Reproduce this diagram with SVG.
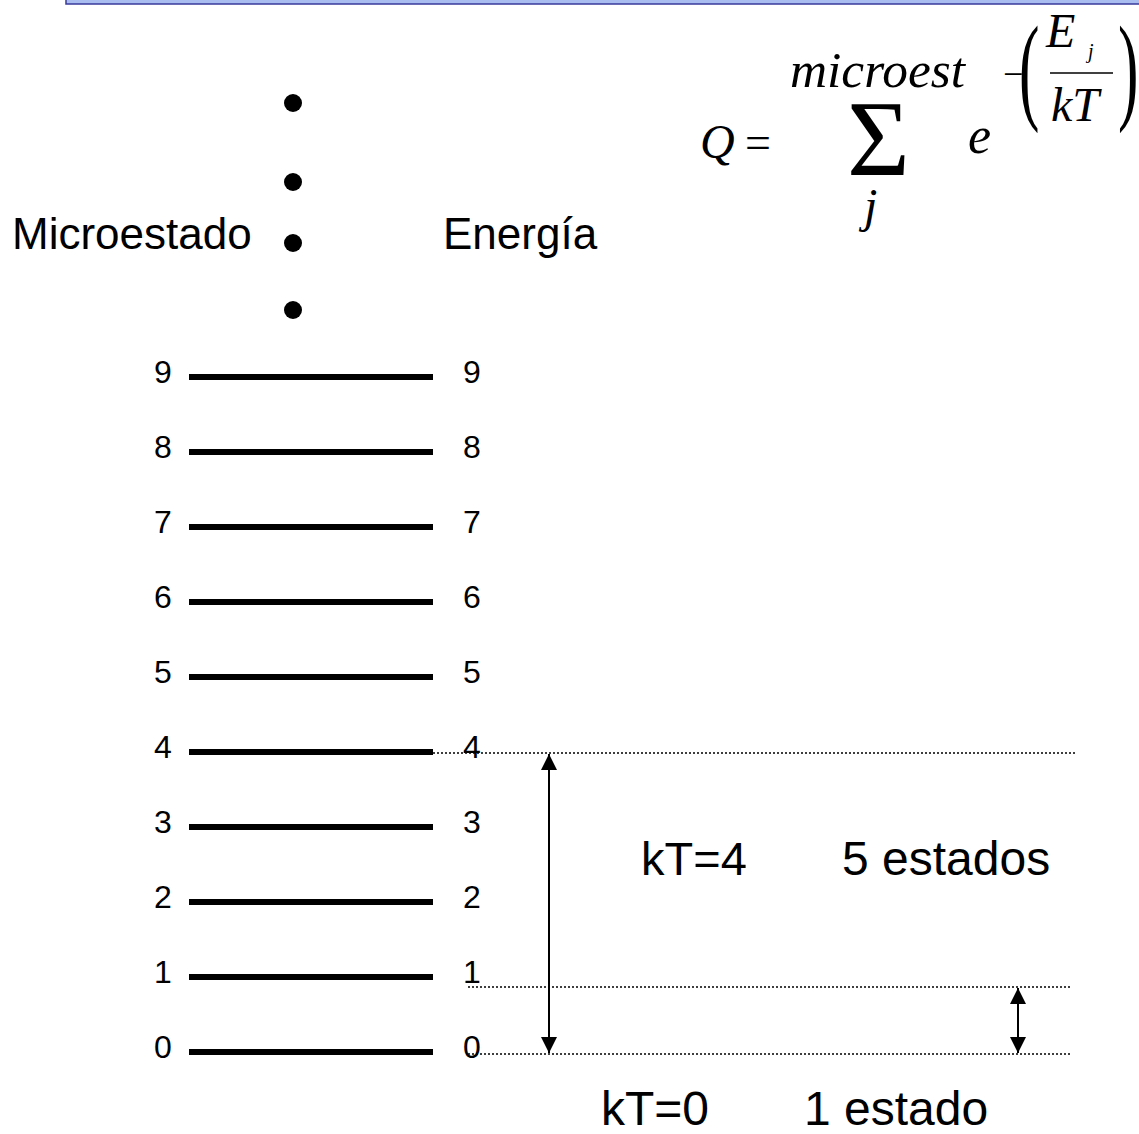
<svg xmlns="http://www.w3.org/2000/svg" width="1139" height="1134" viewBox="0 0 1139 1134">
<defs>
<style>
.lbl{font-family:"Liberation Sans",Arial,sans-serif;fill:#000}
.num{font-family:"Liberation Sans",Arial,sans-serif;font-size:32px;text-anchor:middle;fill:#000}
.lvl{stroke:#000;stroke-width:6}
.dot{stroke:#000;stroke-width:1.5;stroke-dasharray:2 2;fill:none}
.arr{stroke:#000;stroke-width:2;fill:none;marker-start:url(#ah);marker-end:url(#ah)}
.m{font-family:"Liberation Serif","Times New Roman",serif;font-style:italic;fill:#000}
.mu{font-family:"Liberation Serif","Times New Roman",serif;fill:#000}
</style>
<marker id="ah" viewBox="0 0 16 16" refX="16" refY="8" markerWidth="16" markerHeight="16" markerUnits="userSpaceOnUse" orient="auto-start-reverse">
<path d="M0,0 L16,8 L0,16 Z" fill="#000"/>
</marker>
</defs>
<rect x="0" y="0" width="1139" height="1134" fill="#fff"/>
<rect x="66" y="-6" width="1090" height="10" fill="#a9bdf0" stroke="#3a3a9c" stroke-width="1.5"/>

<g id="formula">
<text class="m" x="700" y="158" font-size="48">Q</text>
<text class="mu" x="745" y="158" font-size="46">=</text>
<text class="m" x="790" y="87" font-size="50" textLength="175" lengthAdjust="spacingAndGlyphs">microest</text>
<text class="mu" x="847" y="175" font-size="108">Σ</text>
<text class="m" x="864" y="222" font-size="48">j</text>
<text class="m" x="968" y="153" font-size="52">e</text>
<text class="mu" x="1003" y="86" font-size="36">−</text>
<text class="mu" transform="translate(1019,108) scale(0.52,1)" font-size="118">(</text>
<text class="m" x="1046" y="47" font-size="48">E</text>
<text class="m" x="1088" y="58" font-size="20">j</text>
<line x1="1050" y1="73" x2="1113" y2="73" stroke="#000" stroke-width="1.5"/>
<text class="m" x="1051" y="121" font-size="48">kT</text>
<text class="mu" transform="translate(1118,108) scale(0.52,1)" font-size="118">)</text>
</g>

<g id="headers">
<text class="lbl" x="12" y="249" font-size="44">Microestado</text>
<text class="lbl" x="443" y="249" font-size="44">Energía</text>
<circle cx="293" cy="103" r="9"/>
<circle cx="293" cy="182" r="9"/>
<circle cx="293" cy="243" r="9"/>
<circle cx="293" cy="310" r="9"/>
</g>

<g id="levels">
<g id="level9"><line class="lvl" x1="189" y1="377" x2="433" y2="377"/><text class="num" x="163" y="383">9</text><text class="num" x="472" y="383">9</text></g>
<g id="level8"><line class="lvl" x1="189" y1="452" x2="433" y2="452"/><text class="num" x="163" y="458">8</text><text class="num" x="472" y="458">8</text></g>
<g id="level7"><line class="lvl" x1="189" y1="527" x2="433" y2="527"/><text class="num" x="163" y="533">7</text><text class="num" x="472" y="533">7</text></g>
<g id="level6"><line class="lvl" x1="189" y1="602" x2="433" y2="602"/><text class="num" x="163" y="608">6</text><text class="num" x="472" y="608">6</text></g>
<g id="level5"><line class="lvl" x1="189" y1="677" x2="433" y2="677"/><text class="num" x="163" y="683">5</text><text class="num" x="472" y="683">5</text></g>
<g id="level4"><line class="lvl" x1="189" y1="752" x2="433" y2="752"/><text class="num" x="163" y="758">4</text><text class="num" x="472" y="758">4</text></g>
<g id="level3"><line class="lvl" x1="189" y1="827" x2="433" y2="827"/><text class="num" x="163" y="833">3</text><text class="num" x="472" y="833">3</text></g>
<g id="level2"><line class="lvl" x1="189" y1="902" x2="433" y2="902"/><text class="num" x="163" y="908">2</text><text class="num" x="472" y="908">2</text></g>
<g id="level1"><line class="lvl" x1="189" y1="977" x2="433" y2="977"/><text class="num" x="163" y="983">1</text><text class="num" x="472" y="983">1</text></g>
<g id="level0"><line class="lvl" x1="189" y1="1052" x2="433" y2="1052"/><text class="num" x="163" y="1058">0</text><text class="num" x="472" y="1058">0</text></g>
</g>

<g id="connectors">
<line class="dot" x1="433" y1="753" x2="1075" y2="753"/>
<line class="dot" x1="468" y1="987" x2="1072" y2="987"/>
<line class="dot" x1="468" y1="1054" x2="1072" y2="1054"/>
<line class="arr" x1="549" y1="754" x2="549" y2="1053"/>
<line class="arr" x1="1018" y1="988" x2="1018" y2="1053"/>
</g>

<g id="annotations">
<text class="lbl" x="641" y="875" font-size="47">kT=4</text>
<text class="lbl" x="842" y="875" font-size="48">5 estados</text>
<text class="lbl" x="601" y="1125" font-size="48">kT=0</text>
<text class="lbl" x="804" y="1125" font-size="48">1 estado</text>
</g>
</svg>
